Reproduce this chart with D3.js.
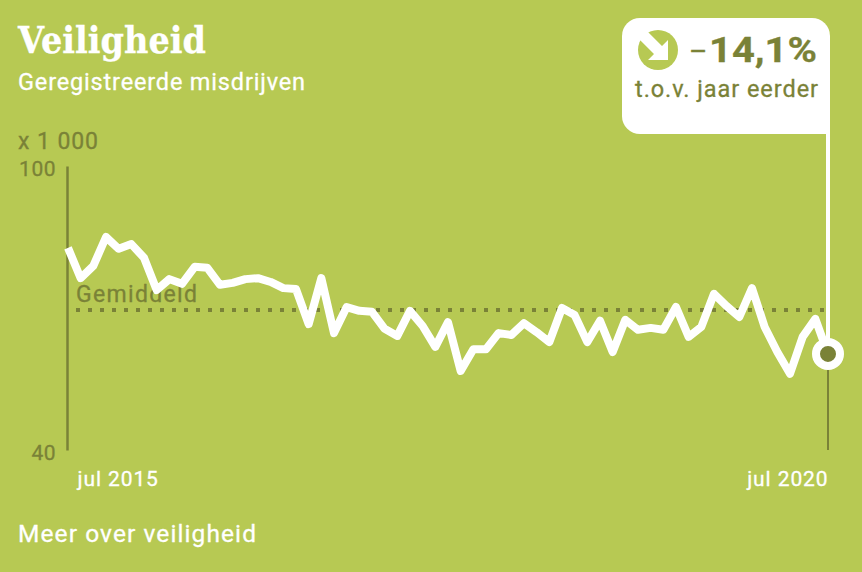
<!DOCTYPE html>
<html><head><meta charset="utf-8">
<script src="https://cdn.jsdelivr.net/npm/d3@7/dist/d3.min.js"></script>
<style>
html,body{margin:0;padding:0;background:#b7c953}
svg{display:block}
text{font-family:Roboto,"Noto Sans",sans-serif;font-weight:400;stroke-width:0.3px}
</style></head><body>
<svg id="c" width="862" height="572"></svg>
<script>
const title = "Veiligheid";
const subtitle = "Geregistreerde misdrijven";
const unit = "x 1 000";
const avgLabel = "Gemiddeld";
const footer = "Meer over veiligheid";
const changeText = "14,1%";
const changeSign = "–";
const changeNote = "t.o.v. jaar eerder";
const monthNames = ["jan","feb","mrt","apr","mei","jun","jul","aug","sep","okt","nov","dec"];
const yTicks = [100, 40];
const xTicks = ["jul 2015", "jul 2020"];
const average = 69.6;
const values = [82.7,76.3,78.9,85.0,82.5,83.5,80.6,73.8,76.1,75.1,78.7,78.5,74.9,75.3,76.1,76.3,75.5,74.2,74.0,66.6,
76.3,64.7,70.2,69.4,69.2,65.6,64.1,69.4,66.2,61.8,67.0,56.7,61.3,61.3,64.7,64.3,66.8,64.9,62.8,70.0,
68.5,62.8,67.3,60.7,67.5,65.4,65.8,65.4,70.2,63.9,66.0,73.0,70.4,68.1,74.2,66.0,60.7,56.1,63.9,67.7,60.3];

const bg = "#b7c953", dark = "#7a8237", white = "#fff";
const months = values.map((_, i) => {
  const m = (6 + i) % 12, yr = 2015 + Math.floor((6 + i) / 12);
  return monthNames[m] + " " + yr;
});
const rows = months.map((m, i) => ({m, v: values[i]}));

const svg = d3.select("#c");
svg.append("rect").attr("width",862).attr("height",572).attr("fill",bg);

const x = d3.scalePoint().domain(months).range([68, 828]);
const y = d3.scaleLinear().domain([40, 100]).range([450, 166]);

function fit(sel, w){ sel.attr("textLength",w).attr("lengthAdjust","spacing"); return sel; }

// headings
svg.append("text").attr("x",18).attr("y",53).text(title)
  .attr("fill",white).attr("stroke",white).attr("font-size",37)
  .attr("textLength",188).attr("lengthAdjust","spacingAndGlyphs")
  .style("font-family","'DejaVu Serif',serif").style("font-weight",700);
fit(svg.append("text").attr("x",18).attr("y",90).text(subtitle)
  .attr("fill",white).attr("stroke",white).attr("font-size",23.5),287);
fit(svg.append("text").attr("x",18).attr("y",149).text(unit)
  .attr("fill",dark).attr("stroke",dark).attr("font-size",23),80);

// y axis
const gy = svg.append("g").attr("transform","translate(67,0)")
  .call(d3.axisLeft(y).tickValues(yTicks).tickSize(0).tickPadding(11));
gy.select(".domain").attr("stroke",dark).attr("stroke-width",2.5);
gy.selectAll("text").attr("fill",dark).attr("stroke",dark).attr("font-size",21).attr("dy","0.45em")
  .attr("letter-spacing",0.5);

// x axis
const gx = svg.append("g").attr("transform","translate(0,450)")
  .call(d3.axisBottom(x).tickValues(xTicks).tickSize(0).tickPadding(0));
gx.select(".domain").remove();
gx.selectAll("text").attr("fill",white).attr("stroke",white).attr("font-size",21).attr("dy",0).attr("y",35.5)
  .attr("letter-spacing",0.9)
  .attr("text-anchor",(d,i)=>i===0?"start":"end")
  .attr("x",(d,i)=>i===0?9:0);

// right guide line
svg.append("line").attr("x1",x(months[60])).attr("x2",x(months[60]))
  .attr("y1",y(values[60])).attr("y2",450).attr("stroke",dark).attr("stroke-width",2);

// average
fit(svg.append("text").attr("x",76).attr("y",302).text(avgLabel)
  .attr("fill",dark).attr("stroke",dark).attr("font-size",23),121);
svg.append("line").attr("x1",76).attr("x2",826).attr("y1",y(average)).attr("y2",y(average))
  .attr("stroke",dark).attr("stroke-width",4).attr("stroke-dasharray","4 8");

// series
const line = d3.line().x(d=>x(d.m)).y(d=>y(d.v));
svg.append("path").datum(rows).attr("d",line).attr("fill","none")
  .attr("stroke",white).attr("stroke-width",8).attr("stroke-linejoin","round").attr("stroke-linecap","butt");

// callout
const L=622,R=830,T=18,B=134,r=18;
svg.append("path").attr("fill",white)
  .attr("d",`M${L+r},${T}H${R-r}A${r},${r} 0 0 1 ${R},${T+r}V${B}H${L+r}A${r},${r} 0 0 1 ${L},${B-r}V${T+r}A${r},${r} 0 0 1 ${L+r},${T}Z`);
svg.append("line").attr("x1",828).attr("x2",828).attr("y1",B).attr("y2",y(values[60]))
  .attr("stroke",white).attr("stroke-width",4);

// end marker
svg.append("circle").attr("cx",x(months[60])).attr("cy",y(values[60])).attr("r",12).attr("fill",dark)
  .attr("stroke",white).attr("stroke-width",8);

// icon
const icon = svg.append("g").attr("transform","translate(658,50)");
icon.append("circle").attr("r",20).attr("fill",bg);
icon.append("path").attr("fill",white)
  .attr("d","M-11,-19 L4,-4 L10,-10 L10,10 L-10,10 L-4,4 L-19,-11 Z");

// callout text
svg.append("text").attr("x",689).attr("y",61).text(changeSign)
  .attr("fill",dark).attr("stroke",dark).attr("font-size",28);
svg.append("text").attr("x",709).attr("y",62).text(changeText)
  .attr("fill",dark).attr("stroke",dark).attr("font-size",35).style("font-weight",700)
  .attr("textLength",108).attr("lengthAdjust","spacingAndGlyphs");
fit(svg.append("text").attr("x",635).attr("y",97).text(changeNote)
  .attr("fill",dark).attr("stroke",dark).attr("font-size",23.5),183);

// footer
fit(svg.append("text").attr("x",18).attr("y",541.5).text(footer)
  .attr("fill",white).attr("stroke",white).attr("font-size",24.5),238);
</script>
</body></html>
